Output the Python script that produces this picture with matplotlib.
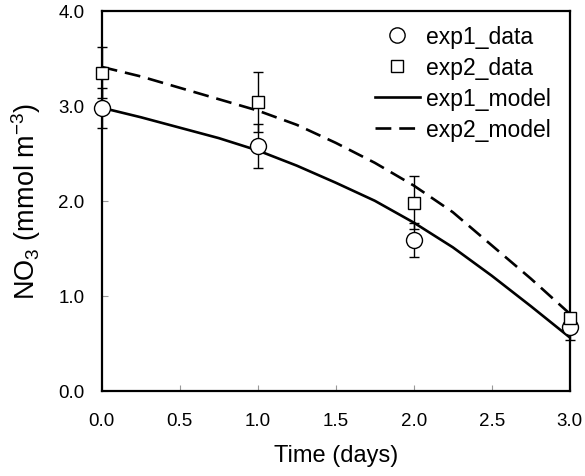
import numpy as np
import matplotlib
matplotlib.use('Agg')
import matplotlib.pyplot as plt
from matplotlib.ticker import FormatStrFormatter
from matplotlib.lines import Line2D

plt.rcParams['font.family'] = ['Liberation Sans', 'DejaVu Sans']
plt.rcParams['mathtext.fontset'] = 'custom'
plt.rcParams['mathtext.rm'] = 'Liberation Sans'
plt.rcParams['mathtext.it'] = 'Liberation Sans:italic'

# measured data
t_data = [0.0, 1.0, 2.0, 3.0]
exp1_data = [2.98, 2.58, 1.59, 0.67]
exp1_err = [0.21, 0.23, 0.18, 0.14]
exp2_data = [3.35, 3.04, 1.98, 0.77]
exp2_err = [0.27, 0.32, 0.28, 0.05]

# model curves
t_model = [0.0, 0.25, 0.5, 0.75, 1.0, 1.25, 1.5, 1.75, 2.0, 2.25, 2.5, 2.75, 3.0]
exp1_model = [2.98, 2.88, 2.77, 2.66, 2.53, 2.37, 2.19, 2.00, 1.77, 1.51, 1.21, 0.89, 0.56]
exp2_model = [3.41, 3.31, 3.19, 3.07, 2.95, 2.80, 2.61, 2.40, 2.16, 1.88, 1.53, 1.18, 0.81]

fig = plt.figure(figsize=(5.85, 4.77), dpi=100)
ax = fig.add_axes([0.174, 0.179, 0.8, 0.796])

ax.errorbar(t_data, exp1_data, yerr=exp1_err, fmt='o', mfc='white', mec='black',
            ms=11.5, mew=1.0, ecolor='black', elinewidth=1.0, capsize=3.5,
            capthick=1.0, zorder=4, clip_on=False)
ax.errorbar(t_data, exp2_data, yerr=exp2_err, fmt='s', mfc='white', mec='black',
            ms=8.5, mew=1.0, ecolor='black', elinewidth=1.0, capsize=3.5,
            capthick=1.0, zorder=4, clip_on=False)
ax.plot(t_model, exp1_model, color='black', lw=1.9, zorder=3)
ax.plot(t_model, exp2_model, color='black', lw=1.9, dashes=(6, 3), zorder=3)

ax.set_xlim(0, 3)
ax.set_ylim(0, 4)
ax.set_xticks(np.arange(0, 3.01, 0.5))
ax.set_yticks(np.arange(0, 4.01, 1.0))
ax.xaxis.set_major_formatter(FormatStrFormatter('%.1f'))
ax.yaxis.set_major_formatter(FormatStrFormatter('%.1f'))
ax.tick_params(direction='in', length=4, width=0.8, color='#999999',
               labelsize=13.5)
ax.tick_params(axis='x', pad=15.5)
ax.tick_params(axis='y', pad=12.5)

for s in ax.spines.values():
    s.set_linewidth(1.6)

ax.set_xlabel('Time (days)', fontsize=17, labelpad=11)
ax.set_ylabel(r'NO$_3$ (mmol m$^{-3}$)', fontsize=19.5, labelpad=11)

handles = [
    Line2D([], [], ls='none', marker='o', mfc='white', mec='black', ms=11, mew=1.0),
    Line2D([], [], ls='none', marker='s', mfc='white', mec='black', ms=9, mew=1.0),
    Line2D([], [], color='black', lw=1.9),
    Line2D([], [], color='black', lw=1.9, dashes=(6, 3)),
]
labels = ['exp1_data', 'exp2_data', 'exp1_model', 'exp2_model']
ax.legend(handles, labels, loc='upper right', frameon=False, fontsize=16.5,
          handlelength=1.95, handletextpad=0.3, labelspacing=0.35,
          borderaxespad=0.2, bbox_to_anchor=(0.99, 1.0))

fig.savefig('out.png', dpi=100)
